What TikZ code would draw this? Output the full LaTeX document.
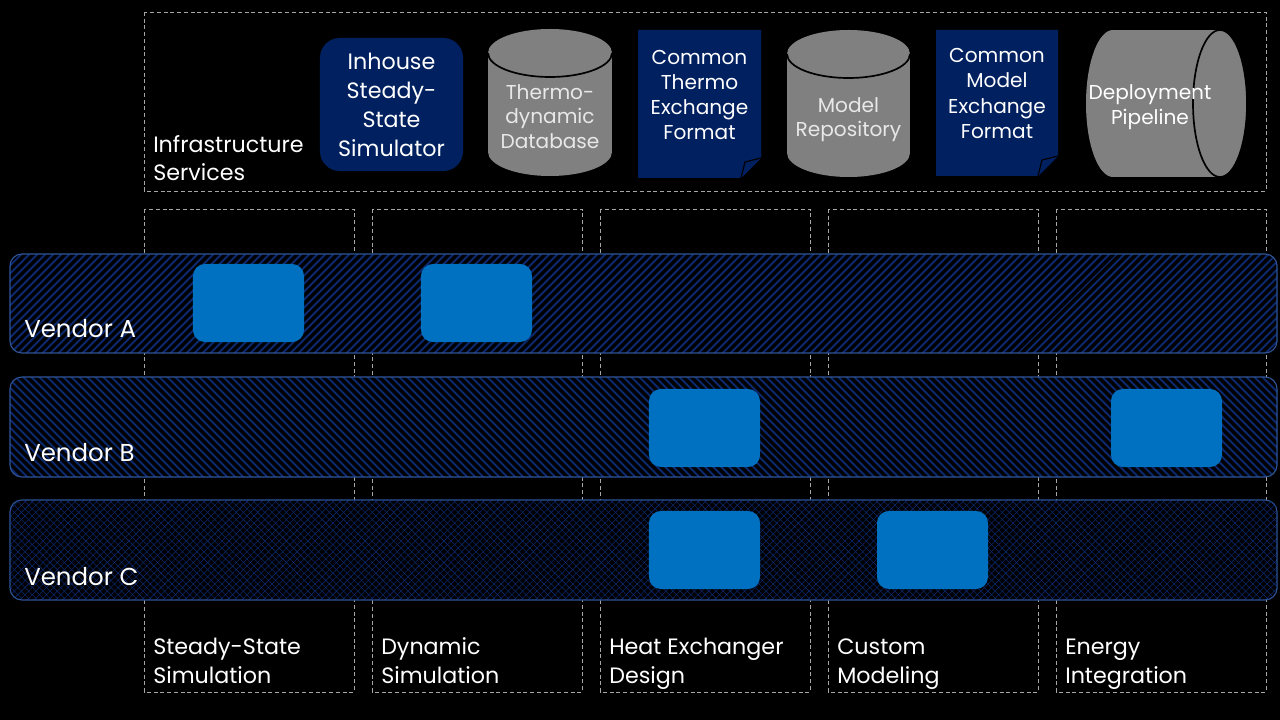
\documentclass[tikz,border=0pt]{standalone}
\usepackage{fontspec}
\setmainfont{Poppins}
\usetikzlibrary{patterns.meta}
\definecolor{navyfill}{RGB}{0,32,96}
\definecolor{cellblue}{RGB}{0,112,192}
\definecolor{bandline}{RGB}{47,85,151}
\definecolor{stripeblue}{RGB}{12,40,110}
\definecolor{dbgray}{RGB}{128,128,128}
\definecolor{dashgray}{RGB}{166,166,166}
\definecolor{dbtext}{RGB}{232,232,232}

\tikzset{
  frame/.style={draw=dashgray, line width=0.6pt, dash pattern=on 2.8pt off 2pt},
  band/.style={draw=bandline, line width=0.8pt, rounded corners=8.5pt, preaction={fill=black}},
  cell/.style={fill=cellblue, rounded corners=8.5pt, minimum width=2.775cm, minimum height=1.95cm, inner sep=0pt},
  bigtext/.style={text=white, align=left, inner sep=0pt, font=\fontsize{15.8}{20.6}\selectfont},
  vendortext/.style={text=white, anchor=west, inner sep=0pt, font=\fontsize{17.4}{21}\selectfont},
  doctext/.style={text=white, align=center, inner sep=0pt, font=\fontsize{14.3}{18}\selectfont},
  cyltext/.style={text=dbtext, align=center, inner sep=0pt, font=\fontsize{14.3}{17.4}\selectfont}
}

\begin{document}
\begin{tikzpicture}[x=0.025cm,y=-0.025cm]
    \fill[black] (0,0) rectangle (1280,720);
    \useasboundingbox (0,0) rectangle (1280,720);

    % infrastructure row
    \draw[frame] (144,12) rectangle (1266,191);
    \node[bigtext, anchor=base west] (infra) at (153,181) {Infrastructure\\Services};

    \node[fill=navyfill, rounded corners=14pt, minimum width=3.575cm, minimum height=3.325cm,
          text=white, align=center, font=\fontsize{15.8}{20.6}\selectfont] (inhouse) at (391.5,104.5)
          {Inhouse\\Steady-\\State\\Simulator};

    % thermodynamic database
    \fill[dbgray] (488,53) rectangle (612,152);
    \fill[dbgray] (550,53) ellipse [x radius=62, y radius=24];
    \fill[dbgray] (550,152) ellipse [x radius=62, y radius=24];
    \draw[black, line width=1.2pt] (612,53) arc [start angle=0, end angle=180, x radius=62, y radius=24];
    \node[cyltext] (thermodb) at (550,116.5) {Thermo-\\dynamic\\Database};

    % thermo exchange format
    \fill[navyfill] (638,30) -- (761,30) -- (761,158) -- (741,178) -- (638,178) -- cycle;
    \filldraw[fill=navyfill, draw=black, line width=0.8pt] (761,158) -- (745,162) -- (741,178);
    \node[doctext] (thermofmt) at (699.5,95) {Common\\Thermo\\Exchange\\Format};

    % model repository
    \fill[dbgray] (787,54) rectangle (910,153);
    \fill[dbgray] (848.5,54) ellipse [x radius=61.5, y radius=24];
    \fill[dbgray] (848.5,153) ellipse [x radius=61.5, y radius=24];
    \draw[black, line width=1.2pt] (910,54) arc [start angle=0, end angle=180, x radius=61.5, y radius=24];
    \node[cyltext] (modelrepo) at (848.5,119.5) {Model\\Repository};

    % model exchange format
    \fill[navyfill] (936,30) -- (1058,30) -- (1058,156) -- (1038,176) -- (936,176) -- cycle;
    \filldraw[fill=navyfill, draw=black, line width=0.8pt] (1058,156) -- (1042,160) -- (1038,176);
    \node[doctext] (modelfmt) at (997,93.5) {Common\\Model\\Exchange\\Format};

    % deployment pipeline
    \fill[dbgray] (1113,30) rectangle (1220,177);
    \fill[dbgray] (1113,103.5) ellipse [x radius=27, y radius=73.5];
    \fill[dbgray] (1220,103.5) ellipse [x radius=27, y radius=73.5];
    \draw[black, line width=1.2pt] (1220,103.5) ellipse [x radius=27, y radius=73.5];
    \node[doctext] (deploy) at (1150,107.5) {Deployment\\Pipeline};

    % application columns
    \foreach \x in {144,372,600,828,1056}
        \draw[frame] (\x,209) rectangle (\x+210,692);

    % vendor bands
    \draw[band, pattern={Lines[angle=45,distance=4pt,line width=1.5pt]}, pattern color=stripeblue]
        (10,254) rectangle (1277,353);
    \draw[band, pattern={Lines[angle=-45,distance=4pt,line width=1.5pt]}, pattern color=stripeblue]
        (10,377) rectangle (1277,477);
    \draw[band, pattern={Lines[angle=45,distance=3.6pt,line width=0.4pt]}, pattern color=stripeblue,
        postaction={pattern={Lines[angle=-45,distance=3.6pt,line width=0.4pt]}, pattern color=stripeblue}]
        (10,500) rectangle (1277,600);
    \node[vendortext] (vendora) at (24,329) {Vendor A};
    \node[vendortext] (vendorb) at (24,453) {Vendor B};
    \node[vendortext] (vendorc) at (24,577) {Vendor C};

    % vendor offerings
    \node[cell] (a1) at (248.5,303) {};
    \node[cell] (a2) at (476.5,303) {};
    \node[cell] (b1) at (704.5,428) {};
    \node[cell] (b2) at (1166.5,428) {};
    \node[cell] (c1) at (704.5,550) {};
    \node[cell] (c2) at (932.5,550) {};

    % column labels
    \node[bigtext, anchor=base west] (steady) at (153,683) {Steady-State\\Simulation};
    \node[bigtext, anchor=base west] (dynamic) at (381,683) {Dynamic\\Simulation};
    \node[bigtext, anchor=base west] (heatex) at (609,683) {Heat Exchanger\\Design};
    \node[bigtext, anchor=base west] (custom) at (837,683) {Custom\\Modeling};
    \node[bigtext, anchor=base west] (energy) at (1065,683) {Energy\\Integration};
\end{tikzpicture}
\end{document}
